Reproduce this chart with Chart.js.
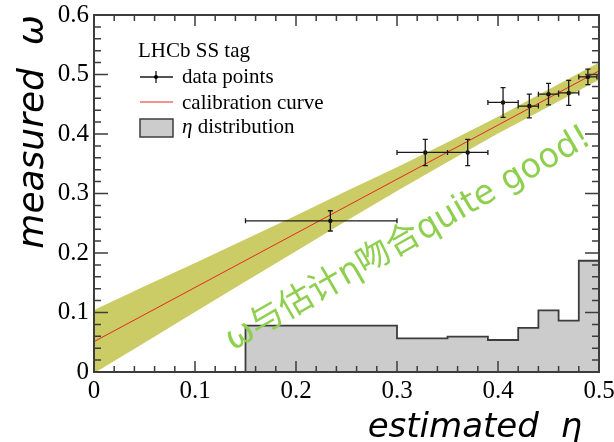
<!DOCTYPE html>
<html>
<head>
<meta charset="utf-8">
<script src="https://cdn.jsdelivr.net/npm/chart.js@4.4.0/dist/chart.umd.min.js"></script>
<style>
  html, body { margin: 0; padding: 0; background: #fff; }
</style>
</head>
<body>
<canvas id="calibChart" width="614" height="442"></canvas>
<script>
// data points (mean eta, measured omega, eta bin edges, omega error)
const pointEta      = [0.234, 0.328, 0.370, 0.405, 0.431, 0.450, 0.470, 0.489];
const pointOmega    = [0.254, 0.369, 0.369, 0.453, 0.447, 0.467, 0.469, 0.496];
const pointEtaLo    = [0.150, 0.300, 0.350, 0.390, 0.420, 0.440, 0.460, 0.480];
const pointEtaHi    = [0.300, 0.350, 0.390, 0.420, 0.440, 0.460, 0.480, 0.498];
const pointOmegaErr = [0.017, 0.022, 0.022, 0.025, 0.020, 0.018, 0.021, 0.013];

// calibration curve and its error band
const curveEta   = [0.0, 0.5];
const curveOmega = [0.051, 0.506];
const bandEta = [0.00, 0.05, 0.10, 0.15, 0.20, 0.25, 0.30, 0.35, 0.40, 0.45, 0.50];
const bandHi  = [0.104, 0.144, 0.183, 0.223, 0.263, 0.304, 0.344, 0.386, 0.429, 0.475, 0.520];
const bandLo  = [-0.002, 0.049, 0.101, 0.152, 0.203, 0.254, 0.304, 0.353, 0.401, 0.446, 0.491];

// eta distribution histogram (left bin edges, last entry closes the final bin)
const histEdges  = [0.00, 0.15, 0.30, 0.35, 0.39, 0.42, 0.44, 0.46, 0.48, 0.50];
const histValues = [0.0, 0.078, 0.0566, 0.0594, 0.0538, 0.074, 0.1037, 0.0863, 0.187, 0.187];

const xTickLabels = ['0', '0.1', '0.2', '0.3', '0.4', '0.5'];
const yTickLabels = ['0', '0.1', '0.2', '0.3', '0.4', '0.5', '0.6'];

const noteText = 'ω与估计η吻合quite good!';

const SERIF = '"Liberation Serif", "Times New Roman", serif';
const SANS = '"DejaVu Sans", "Noto Sans CJK SC", sans-serif';

function xy(xs, ys) {
  return xs.map((v, i) => ({ x: v, y: ys[i] }));
}

// frame + inside ticks on all four sides (ROOT style)
const frameTicks = {
  id: 'frameTicks',
  afterDatasetsDraw(chart) {
    const { ctx, chartArea: a, scales: { x, y } } = chart;
    ctx.save();
    ctx.strokeStyle = '#3c3c3c';
    ctx.lineWidth = 1.5;
    ctx.beginPath();
    for (let i = 0; i <= 25; i++) {
      const px = x.getPixelForValue(i * 0.02);
      const len = i % 5 === 0 ? 11 : 6;
      ctx.moveTo(px, a.bottom); ctx.lineTo(px, a.bottom - len);
      ctx.moveTo(px, a.top); ctx.lineTo(px, a.top + len);
    }
    for (let i = 0; i <= 30; i++) {
      const py = y.getPixelForValue(i * 0.02);
      const len = i % 5 === 0 ? 14 : 7;
      ctx.moveTo(a.left, py); ctx.lineTo(a.left + len, py);
      ctx.moveTo(a.right, py); ctx.lineTo(a.right - len, py);
    }
    ctx.stroke();
    ctx.lineWidth = 2;
    ctx.strokeRect(a.left, a.top, a.right - a.left, a.bottom - a.top);
    ctx.restore();
  }
};

// error bars for the data points
const errorBars = {
  id: 'errorBars',
  afterDatasetsDraw(chart) {
    const { ctx, scales: { x, y } } = chart;
    ctx.save();
    ctx.strokeStyle = '#1a1a1a';
    ctx.lineWidth = 1.3;
    ctx.beginPath();
    pointEta.forEach((e, i) => {
      const px = x.getPixelForValue(e);
      const py = y.getPixelForValue(pointOmega[i]);
      const xl = x.getPixelForValue(pointEtaLo[i]);
      const xr = x.getPixelForValue(pointEtaHi[i]);
      const yt = y.getPixelForValue(pointOmega[i] + pointOmegaErr[i]);
      const yb = y.getPixelForValue(pointOmega[i] - pointOmegaErr[i]);
      ctx.moveTo(xl, py); ctx.lineTo(xr, py);
      ctx.moveTo(xl, py - 2.5); ctx.lineTo(xl, py + 2.5);
      ctx.moveTo(xr, py - 2.5); ctx.lineTo(xr, py + 2.5);
      ctx.moveTo(px, yt); ctx.lineTo(px, yb);
      ctx.moveTo(px - 2.5, yt); ctx.lineTo(px + 2.5, yt);
      ctx.moveTo(px - 2.5, yb); ctx.lineTo(px + 2.5, yb);
    });
    ctx.stroke();
    ctx.restore();
  }
};

// legend box inside the frame + the green note
const legendNote = {
  id: 'legendNote',
  afterDraw(chart) {
    const { ctx, chartArea: a, scales: { x, y } } = chart;
    const lx = a.left + 44;
    ctx.save();
    ctx.fillStyle = '#000';
    ctx.textBaseline = 'alphabetic';
    ctx.font = '21px ' + SERIF;
    ctx.fillText('LHCb SS tag', lx, a.top + 42);
    ctx.fillText('data points', lx + 44, a.top + 68);
    ctx.fillText('calibration curve', lx + 44, a.top + 94);
    ctx.font = 'italic 21px ' + SERIF;
    ctx.fillText('η', lx + 44, a.top + 118);
    const ew = ctx.measureText('η').width;
    ctx.font = '21px ' + SERIF;
    ctx.fillText(' distribution', lx + 44 + ew, a.top + 118);

    // symbols
    ctx.strokeStyle = '#1a1a1a';
    ctx.lineWidth = 1.3;
    ctx.beginPath();
    ctx.moveTo(lx + 2, a.top + 62); ctx.lineTo(lx + 35, a.top + 62);
    ctx.moveTo(lx + 18, a.top + 56); ctx.lineTo(lx + 18, a.top + 68);
    ctx.stroke();
    ctx.beginPath();
    ctx.arc(lx + 18, a.top + 62, 2, 0, Math.PI * 2);
    ctx.fillStyle = '#000';
    ctx.fill();
    ctx.strokeStyle = 'rgb(230, 40, 30)';
    ctx.lineWidth = 1;
    ctx.beginPath();
    ctx.moveTo(lx + 2, a.top + 87); ctx.lineTo(lx + 35, a.top + 87);
    ctx.stroke();
    ctx.fillStyle = '#cccccc';
    ctx.strokeStyle = '#3c3c3c';
    ctx.lineWidth = 1.5;
    ctx.fillRect(lx + 2, a.top + 104, 33, 18);
    ctx.strokeRect(lx + 2, a.top + 104, 33, 18);

    // rotated note
    ctx.translate(x.getPixelForValue(0.494), y.getPixelForValue(0.385));
    ctx.rotate(-30 * Math.PI / 180);
    ctx.font = '34px ' + SANS;
    ctx.fillStyle = 'rgb(142, 208, 78)';
    ctx.textAlign = 'right';
    ctx.fillText(noteText, 0, 0);
    ctx.restore();
  }
};

const config = {
  type: 'line',
  data: {
    datasets: [
      {
        label: 'data points',
        type: 'scatter',
        data: xy(pointEta, pointOmega),
        pointRadius: 2.2,
        pointBackgroundColor: '#000',
        pointBorderWidth: 0,
        order: 0
      },
      {
        label: 'calibration curve',
        data: xy(curveEta, curveOmega),
        borderColor: 'rgb(230, 40, 30)',
        borderWidth: 1,
        pointRadius: 0,
        fill: false,
        order: 1
      },
      {
        label: 'band high',
        data: xy(bandEta, bandHi),
        borderWidth: 0,
        borderColor: 'rgba(0,0,0,0)',
        backgroundColor: 'rgb(204, 204, 102)',
        pointRadius: 0,
        fill: '+1',
        order: 3
      },
      {
        label: 'band low',
        data: xy(bandEta, bandLo),
        borderWidth: 0,
        borderColor: 'rgba(0,0,0,0)',
        pointRadius: 0,
        fill: false,
        order: 4
      },
      {
        label: 'η distribution',
        data: xy(histEdges, histValues),
        stepped: true,
        borderColor: '#3c3c3c',
        borderWidth: 1.8,
        backgroundColor: '#cccccc',
        pointRadius: 0,
        fill: 'origin',
        order: 2
      }
    ]
  },
  options: {
    responsive: false,
    animation: false,
    layout: { padding: { top: 15, right: 15, left: 0, bottom: 0 } },
    plugins: { legend: { display: false }, tooltip: { enabled: false } },
    scales: {
      x: {
        type: 'linear',
        min: 0, max: 0.5,
        afterFit: (s) => { s.height = 70; s.paddingLeft = 0; s.paddingRight = 0; },
        grid: { display: false, drawTicks: false },
        border: { display: false },
        ticks: {
          stepSize: 0.1,
          padding: 4,
          color: '#000',
          font: { family: SERIF, size: 25 },
          maxRotation: 0,
          callback: (v) => xTickLabels[Math.round(v * 10)]
        },
        title: {
          display: true,
          text: 'estimated  η\u2002',
          align: 'end',
          color: '#000',
          font: { family: '"DejaVu Sans"', size: 34, style: 'italic', lineHeight: 0.8 },
          padding: { top: 0, bottom: 0 }
        }
      },
      y: {
        type: 'linear',
        min: 0, max: 0.6,
        afterFit: (s) => { s.width = 94; s.paddingTop = 0; s.paddingBottom = 0; },
        grid: { display: false, drawTicks: false },
        border: { display: false },
        ticks: {
          stepSize: 0.1,
          padding: 5,
          color: '#000',
          font: { family: SERIF, size: 25 },
          callback: (v) => yTickLabels[Math.round(v * 10)]
        },
        title: {
          display: true,
          text: 'measured  ω',
          align: 'end',
          color: '#000',
          font: { family: '"DejaVu Sans"', size: 36, style: 'italic', lineHeight: 1 },
          padding: { top: 16, bottom: 0 }
        }
      }
    }
  },
  plugins: [errorBars, frameTicks, legendNote]
};

const calibChart = new Chart(document.getElementById('calibChart'), config);
</script>
</body>
</html>
